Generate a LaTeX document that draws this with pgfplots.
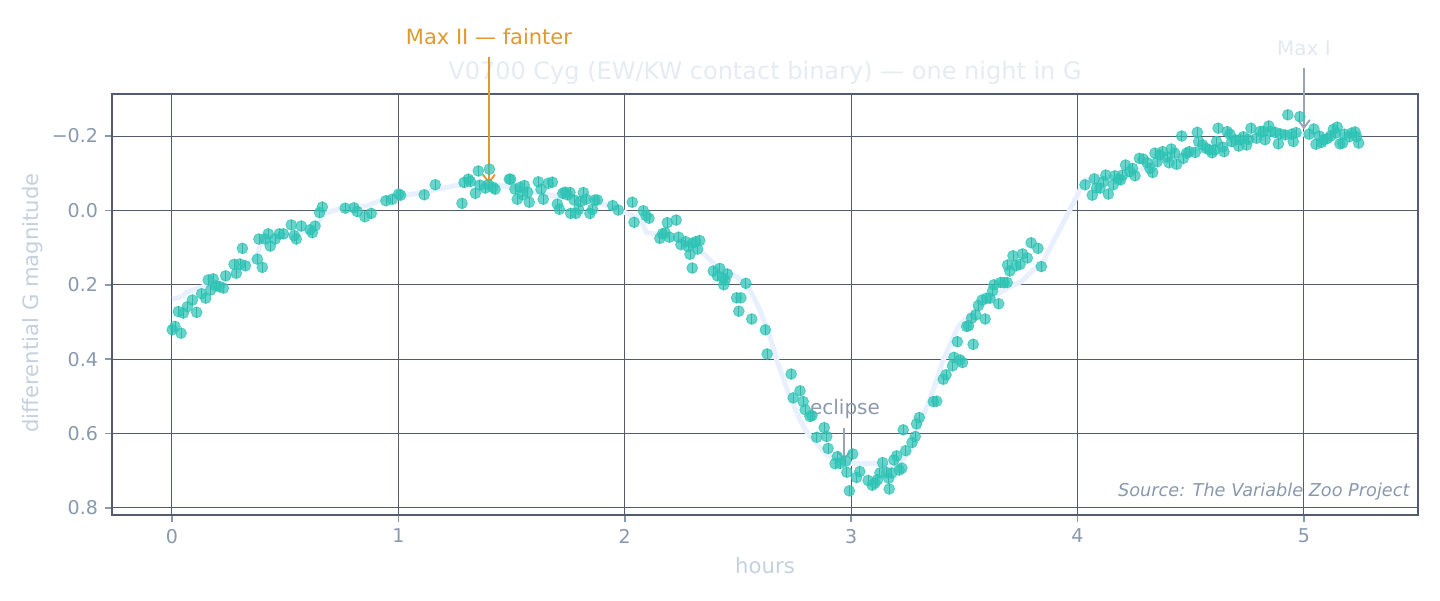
\documentclass[border=0pt]{standalone}
\usepackage{fontspec}
\setmainfont{DejaVu Sans}
\usepackage{pgfplots}
\pgfplotsset{compat=1.18}
\usepackage{pgfplotstable}
\usetikzlibrary{arrows.meta}
\definecolor{pt}{HTML}{2EC4B6}
\definecolor{errc}{HTML}{4A938D}
\definecolor{frame}{HTML}{515D6F}
\definecolor{ticklab}{HTML}{8899AD}
\definecolor{axlab}{HTML}{C5D0DE}
\definecolor{ttl}{HTML}{E5EBF3}
\definecolor{maxii}{HTML}{E0992A}
\definecolor{maxitxt}{HTML}{E2E8F0}
\definecolor{arrg}{HTML}{98A3B3}
\definecolor{ecl}{HTML}{8C99AB}
\definecolor{roll}{HTML}{E8F0FE}

\pgfplotstableread{
h m
0.001 0.321
0.013 0.312
0.040 0.330
0.028 0.272
0.050 0.276
0.068 0.259
0.090 0.241
0.109 0.274
0.131 0.224
0.149 0.236
0.160 0.187
0.182 0.184
0.171 0.214
0.194 0.203
0.209 0.205
0.227 0.209
0.237 0.176
0.274 0.145
0.284 0.169
0.300 0.144
0.324 0.149
0.311 0.102
0.377 0.131
0.399 0.153
0.384 0.077
0.411 0.077
0.425 0.063
0.434 0.096
0.456 0.077
0.474 0.063
0.492 0.063
0.527 0.039
0.540 0.068
0.549 0.077
0.571 0.042
0.610 0.052
0.620 0.060
0.632 0.042
0.652 0.006
0.664 -0.009
0.765 -0.006
0.804 -0.007
0.818 0.003
0.852 0.017
0.880 0.008
0.945 -0.026
0.973 -0.030
1.001 -0.044
1.010 -0.041
1.114 -0.042
1.163 -0.069
1.281 -0.019
1.290 -0.075
1.309 -0.084
1.318 -0.078
1.340 -0.046
1.353 -0.106
1.360 -0.068
1.383 -0.060
1.397 -0.069
1.402 -0.111
1.417 -0.062
1.427 -0.057
1.490 -0.084
1.496 -0.084
1.515 -0.057
1.537 -0.062
1.556 -0.067
1.571 -0.049
1.525 -0.030
1.549 -0.042
1.578 -0.022
1.618 -0.077
1.630 -0.057
1.640 -0.030
1.662 -0.073
1.680 -0.076
1.702 -0.017
1.711 -0.003
1.726 -0.046
1.736 -0.049
1.746 -0.042
1.758 -0.048
1.761 0.008
1.776 -0.028
1.784 0.008
1.796 -0.003
1.805 -0.024
1.817 -0.048
1.829 -0.030
1.846 0.008
1.858 -0.003
1.868 -0.028
1.879 -0.028
1.947 -0.013
1.971 -0.001
2.033 -0.022
2.041 0.032
2.082 0.001
2.094 0.014
2.107 0.021
2.155 0.075
2.167 0.063
2.178 0.060
2.188 0.033
2.197 0.072
2.227 0.026
2.238 0.072
2.248 0.092
2.269 0.084
2.280 0.097
2.288 0.118
2.300 0.088
2.314 0.084
2.322 0.104
2.331 0.081
2.298 0.155
2.391 0.163
2.409 0.176
2.420 0.156
2.437 0.200
2.443 0.187
2.453 0.171
2.435 0.182
2.535 0.196
2.494 0.235
2.513 0.235
2.504 0.271
2.561 0.292
2.621 0.321
2.629 0.386
2.735 0.440
2.744 0.504
2.774 0.485
2.788 0.514
2.797 0.536
2.818 0.554
2.827 0.552
2.848 0.610
2.881 0.584
2.892 0.608
2.898 0.640
2.929 0.681
2.939 0.662
2.951 0.680
2.976 0.674
3.007 0.655
2.981 0.704
2.992 0.754
3.024 0.718
3.038 0.702
3.075 0.726
3.093 0.739
3.105 0.733
3.117 0.724
3.127 0.706
3.139 0.678
3.157 0.705
3.166 0.720
3.168 0.749
3.180 0.706
3.189 0.671
3.201 0.660
3.212 0.698
3.224 0.693
3.230 0.590
3.241 0.646
3.269 0.624
3.283 0.608
3.289 0.574
3.301 0.557
3.363 0.514
3.378 0.513
3.407 0.454
3.419 0.442
3.448 0.418
3.454 0.395
3.481 0.402
3.492 0.409
3.469 0.353
3.539 0.360
3.510 0.312
3.519 0.310
3.532 0.290
3.550 0.281
3.562 0.256
3.578 0.241
3.592 0.292
3.598 0.236
3.613 0.236
3.625 0.216
3.631 0.200
3.652 0.251
3.660 0.194
3.675 0.194
3.689 0.194
3.691 0.147
3.701 0.163
3.715 0.122
3.728 0.149
3.746 0.145
3.757 0.117
3.778 0.128
3.795 0.087
3.825 0.102
3.840 0.151
4.033 -0.069
4.074 -0.085
4.065 -0.041
4.084 -0.060
4.099 -0.060
4.114 -0.077
4.125 -0.095
4.136 -0.044
4.158 -0.069
4.165 -0.093
4.180 -0.084
4.190 -0.082
4.199 -0.095
4.212 -0.122
4.231 -0.104
4.243 -0.113
4.254 -0.093
4.273 -0.140
4.290 -0.138
4.308 -0.128
4.320 -0.113
4.332 -0.102
4.342 -0.154
4.352 -0.131
4.364 -0.149
4.376 -0.158
4.396 -0.143
4.404 -0.128
4.414 -0.165
4.429 -0.154
4.438 -0.124
4.460 -0.200
4.467 -0.140
4.482 -0.154
4.493 -0.158
4.520 -0.156
4.529 -0.210
4.535 -0.185
4.553 -0.176
4.567 -0.167
4.582 -0.163
4.594 -0.155
4.607 -0.163
4.614 -0.185
4.621 -0.221
4.641 -0.170
4.647 -0.158
4.661 -0.212
4.673 -0.205
4.681 -0.185
4.696 -0.190
4.712 -0.173
4.718 -0.190
4.732 -0.198
4.747 -0.176
4.754 -0.191
4.766 -0.221
4.791 -0.194
4.806 -0.212
4.820 -0.212
4.828 -0.190
4.845 -0.227
4.853 -0.212
4.872 -0.210
4.887 -0.179
4.894 -0.206
4.917 -0.203
4.929 -0.257
4.946 -0.205
4.953 -0.185
4.965 -0.209
4.982 -0.252
5.023 -0.205
5.044 -0.219
5.053 -0.178
5.068 -0.200
5.078 -0.183
5.088 -0.190
5.103 -0.193
5.118 -0.200
5.130 -0.218
5.141 -0.208
5.147 -0.224
5.159 -0.179
5.171 -0.181
5.178 -0.205
5.200 -0.198
5.211 -0.208
5.226 -0.211
5.233 -0.198
5.242 -0.181
}\pts

\pgfplotstableread{
h m
0.001 0.239
0.043 0.232
0.065 0.220
0.137 0.205
0.212 0.194
0.322 0.151
0.374 0.124
0.396 0.084
0.447 0.075
0.536 0.066
0.639 0.044
0.668 0.010
0.764 -0.010
0.860 -0.012
0.948 -0.034
1.066 -0.044
1.198 -0.060
1.287 -0.071
1.405 -0.073
1.508 -0.060
1.655 -0.042
1.861 -0.028
1.949 -0.006
2.067 0.021
2.097 0.060
2.155 0.066
2.244 0.079
2.332 0.106
2.406 0.151
2.494 0.178
2.553 0.214
2.597 0.268
2.641 0.339
2.671 0.402
2.729 0.500
2.774 0.563
2.803 0.595
2.892 0.657
2.980 0.680
3.098 0.680
3.157 0.689
3.216 0.680
3.274 0.635
3.296 0.581
3.348 0.509
3.407 0.402
3.473 0.312
3.539 0.272
3.643 0.227
3.701 0.205
3.753 0.191
3.804 0.160
3.841 0.146
3.996 -0.037
4.033 -0.082
4.200 -0.090
4.400 -0.140
4.600 -0.170
4.800 -0.195
5.000 -0.205
5.240 -0.200
}\roll

\begin{document}
\begin{tikzpicture}
\begin{axis}[
  at={(56pt,42.5pt)}, anchor=south west,
  scale only axis, width=653pt, height=210.5pt,
  xmin=-0.265, xmax=5.504, ymin=-0.313, ymax=0.819,
  y dir=reverse,
  clip=false,
  axis line style={frame, line width=1pt},
  grid=major,
  major grid style={frame, line width=0.5pt},
  xtick={0,1,2,3,4,5}, xticklabels={0,1,2,3,4,5},
  ytick={-0.2,0,0.2,0.4,0.6,0.8},
  yticklabels={−0.2,0.0,0.2,0.4,0.6,0.8},
  xtick pos=bottom, ytick pos=left,
  tick align=outside,
  major tick length=3.5pt,
  tick style={ticklab, line width=0.8pt},
  ticklabel style={font=\fontsize{9.5}{11}\selectfont, text=ticklab},
  xlabel={hours}, ylabel={differential G magnitude},
  label style={font=\fontsize{10.6}{12}\selectfont, text=axlab},
  xlabel style={at={(axis description cs:0.5,-0.121)}, anchor=center},
  ylabel style={at={(axis description cs:-0.0605,0.504)}, anchor=center},
]
\addplot[roll, line width=2.5pt, line join=round] table[x=h,y=m]{\roll};
\addplot[only marks, mark=*, mark size=2.7pt,
  mark options={fill=pt, draw=pt, fill opacity=0.72, draw opacity=0.72},
  error bars/.cd, y dir=both, y fixed=0.014, error mark=none,
  error bar style={errc, line width=0.4pt}]
  table[x=h,y=m]{\pts};

\node[text=ttl, font=\fontsize{12}{14}\selectfont] at (axis description cs:0.5,1.05)
  {V0700 Cyg (EW/KW contact binary) — one night in G};

\draw[maxii, line width=0.9pt, -{Straight Barb[length=4pt,width=6pt]}] (axis cs:1.4,-0.413) -- (axis cs:1.4,-0.071);
\node[text=maxii, font=\fontsize{10.5}{12}\selectfont] at (axis cs:1.4,-0.466) {Max II — fainter};

\draw[arrg, line width=0.9pt, -{Straight Barb[length=4pt,width=6pt]}] (axis cs:5.0,-0.383) -- (axis cs:5.0,-0.218);
\node[text=maxitxt, font=\fontsize{10}{12}\selectfont] at (axis cs:5.0,-0.437) {Max I};

\draw[arrg, line width=0.9pt, -{Straight Barb[length=4pt,width=6pt]}] (axis cs:2.968,0.585) -- (axis cs:2.968,0.674);
\node[text=ecl, font=\fontsize{10}{12}\selectfont] at (axis cs:2.973,0.534) {eclipse};

\node[text=ticklab, anchor=east, inner sep=0pt, font=\fontsize{8.85}{10}\selectfont\itshape] at (axis cs:5.468,0.757) {Source: The Variable Zoo Project};
\end{axis}
\path[use as bounding box] (0,0) rectangle (720pt,300pt);
\end{tikzpicture}
\end{document}
